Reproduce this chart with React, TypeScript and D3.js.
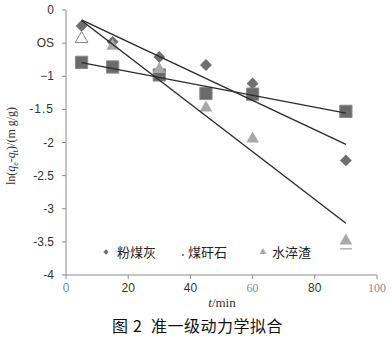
import * as d3 from "d3";

// sampling times (min)
const TIMES = [5, 15, 30, 45, 60, 90];
// ln(qe - qt) for each adsorbent
const FLY_ASH = [-0.24, -0.48, -0.71, -0.83, -1.11, -2.27]; // 粉煤灰
const GANGUE = [-0.79, -0.86, -0.98, -1.26, -1.27, -1.53]; // 煤矸石
const SLAG = [-0.42, -0.53, -0.88, -1.46, -1.93, -3.47]; // 水淬渣

const Y_TICKS = [0, -0.5, -1, -1.5, -2, -2.5, -3, -3.5, -4];
const Y_TICK_LABELS = ["0", "OS", "\u22121", "-1.5", "-2", "-2.5", "-3", "-3.5", "-4"];
const X_TICKS = [0, 20, 40, 60, 80, 100];
const LEGEND = ["粉煤灰", "煤矸石", "水淬渣"];

// least squares fit
function fit(xs: number[], ys: number[]) {
  const mx = d3.mean(xs)!;
  const my = d3.mean(ys)!;
  const sxy = d3.sum(xs, (x, i) => (x - mx) * (ys[i] - my));
  const sxx = d3.sum(xs, (x) => (x - mx) ** 2);
  const k = sxy / sxx;
  return { k, b: my - k * mx };
}

export default function App() {
  const W = 392;
  const H = 338;
  const plot = { left: 66, right: 377, top: 10, bottom: 275 };

  const x = d3.scaleLinear().domain([0, 100]).range([plot.left, plot.right]);
  const y = d3.scaleLinear().domain([-4, 0]).range([plot.bottom, plot.top]);

  const axisColor = "#8a8a8a";
  const diamondFill = "#6f6f6f";
  const squareFill = "#6b6b6b";
  const triFill = "#a8a8a8";

  // diamond = square turned 45deg
  const diamond = d3.symbol().type(d3.symbolSquare).size(70)()!;
  const square = d3.symbol().type(d3.symbolSquare).size(150)()!;
  const tri = d3.symbol().type(d3.symbolTriangle).size(70)()!;

  const line = d3.line<number>().x((t) => x(t)).y((v) => v);
  const x0 = TIMES[0];
  const x1 = TIMES[TIMES.length - 1];
  const fits = [FLY_ASH, GANGUE, SLAG].map((s) => fit(TIMES, s));

  return (
    <svg
      width={W}
      height={H}
      style={{ position: "absolute", left: 0, top: 0, background: "#fff" }}
    >
      {/* axes */}
      <line x1={plot.left} x2={plot.left} y1={plot.top} y2={plot.bottom} stroke={axisColor} />
      <line x1={plot.left} x2={plot.right} y1={plot.bottom} y2={plot.bottom} stroke={axisColor} />

      {Y_TICKS.map((v, i) => (
        <g key={v}>
          <line x1={plot.left - 4} x2={plot.left} y1={y(v)} y2={y(v)} stroke={axisColor} />
          <text
            x={plot.left - 12}
            y={y(v) + 4}
            textAnchor="end"
            fontSize={12}
            fontFamily="Liberation Sans, Arial, sans-serif"
            letterSpacing={v === -1.5 ? 1 : 0}
            fill="#333"
          >
            {Y_TICK_LABELS[i]}
          </text>
        </g>
      ))}

      {X_TICKS.map((t) => (
        <g key={t}>
          <line x1={x(t)} x2={x(t)} y1={plot.bottom} y2={plot.bottom + 4} stroke={axisColor} />
          <text
            x={x(t)}
            y={plot.bottom + 17}
            textAnchor="middle"
            fontSize={12}
            fontFamily={t === 60 || t === 100 ? "Liberation Serif, serif" : "Liberation Sans, Arial, sans-serif"}
            fill={t === 0 || t === 60 || t === 100 ? "#888" : "#333"}
          >
            {t}
          </text>
        </g>
      ))}

      {/* y label */}
      <text
        transform={`translate(15,146) rotate(-90)`}
        textAnchor="middle"
        fontSize={12}
        fontFamily="Liberation Serif, serif"
        fill="#333"
      >
        ln(<tspan fontStyle="italic">q</tspan>
        <tspan fontSize={8} dy={3}>e</tspan>
        <tspan dy={-3}>-</tspan>
        <tspan fontStyle="italic">q</tspan>
        <tspan fontSize={8} dy={3}>t</tspan>
        <tspan dy={-3}>)/(m g/g)</tspan>
      </text>

      {/* x label */}
      <text
        x={222}
        y={307}
        textAnchor="middle"
        fontSize={13}
        fontFamily="Liberation Serif, serif"
        fill="#333"
      >
        <tspan fontStyle="italic">t</tspan>/min
      </text>

      {/* markers */}
      {TIMES.map((t, i) => (
        <path
          key={"d" + t}
          d={diamond}
          transform={`translate(${x(t)},${y(FLY_ASH[i])}) rotate(45)`}
          fill={diamondFill}
        />
      ))}
      {TIMES.map((t, i) => (
        <path
          key={"s" + t}
          d={square}
          transform={`translate(${x(t)},${y(GANGUE[i])})`}
          fill={squareFill}
          stroke="#8a8a8a"
          strokeWidth={1}
        />
      ))}
      {TIMES.map((t, i) => (
        <path
          key={"t" + t}
          d={tri}
          transform={`translate(${x(t)},${y(SLAG[i]) + 1})`}
          fill={i === 0 ? "#fff" : triFill}
          stroke={i === 0 ? "#8a8a8a" : "none"}
          strokeWidth={1}
        />
      ))}
      <line
        x1={x(x1) - 6}
        x2={x(x1) + 6}
        y1={y(SLAG[SLAG.length - 1]) + 9}
        y2={y(SLAG[SLAG.length - 1]) + 9}
        stroke="#888"
        strokeWidth={1}
      />

      {/* fitted lines */}
      {fits.map((f, i) => (
        <path
          key={"f" + i}
          d={line.y((t) => y(f.k * t + f.b))([x0, x1])!}
          stroke="#2b2b2b"
          strokeWidth={1.4}
          fill="none"
        />
      ))}

      {/* legend */}
      <path
        d={d3.symbol().type(d3.symbolSquare).size(14)()!}
        transform="translate(106,252) rotate(45)"
        fill={diamondFill}
      />
      <circle cx={183} cy={255} r={0.9} fill="#555" />
      <path d={d3.symbol().type(d3.symbolTriangle).size(20)()!} transform="translate(263,252)" fill={triFill} />
      {LEGEND.map((s, i) => (
        <text
          key={s}
          x={[117, 188, 272][i]}
          y={257}
          fontSize={13}
          fontFamily="Noto Sans CJK SC, sans-serif"
          fill="#222"
        >
          {s}
        </text>
      ))}

      {/* caption */}
      <text y={332} fontSize={16} fontFamily="Noto Sans CJK SC, sans-serif" fill="#111">
        <tspan x={112}>图</tspan>
        <tspan x={133}>2</tspan>
        <tspan x={151} letterSpacing={0.5}>准一级动力学拟合</tspan>
      </text>
    </svg>
  );
}
